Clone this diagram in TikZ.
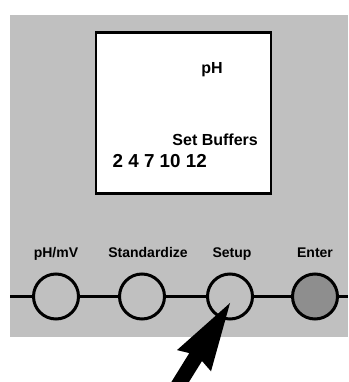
\documentclass[tikz,border=0pt]{standalone}
\usepackage{fontspec}
\setmainfont{Liberation Sans}
\usepackage{tikz}
\usetikzlibrary{positioning, calc}
\definecolor{PanelGray}{HTML}{C0C0C0}
\definecolor{KeyGray}{HTML}{8E8E8E}

\begin{document}
\begin{tikzpicture}[
    x=1pt, y=1pt,
    screen/.style={draw, line width=2.6pt, fill=white, minimum width=175pt, minimum height=161pt, inner sep=0pt},
    key/.style={draw, circle, line width=3pt, minimum size=45pt, inner sep=0pt, fill=PanelGray},
    lbl/.style={font=\bfseries\fontsize{14}{16}\selectfont, inner sep=0pt},
    scr/.style={font=\bfseries\fontsize{16}{18}\selectfont, inner sep=0pt},
    big/.style={font=\bfseries\fontsize{18.8}{22}\selectfont, inner sep=0pt}
]
    \useasboundingbox (0,0) rectangle (348,382);
    \clip (0,0) rectangle (348,382);
    % front panel
    \fill[PanelGray] (10,45) rectangle (348,367);
    \coordinate (left) at (10,85.5);
    \coordinate (right) at (348,85.5);
    % display
    \node[screen] (display) at (183.5,268.75) {};
    \node[scr, anchor=base] (mode) at (212,308) {pH};
    \node[scr, anchor=base east] (menu) at (258,236) {Set Buffers};
    \node[big, anchor=base west] (buffers) at (112.5,214) {2 4 7 10 12};
    % keys
    \node[key] (phmv) at (56,85.5) {};
    \node[key] (stand) at (142,85.5) {};
    \node[key] (setup) at (230,85.5) {};
    \node[key, fill=KeyGray] (enter) at (315,85.5) {};
    \node[lbl, above=14.5pt of phmv, anchor=base] {pH/mV};
    \node[lbl, above=14.5pt of stand, anchor=base, xshift=6pt] {Standardize};
    \node[lbl, above=14.5pt of setup, anchor=base, xshift=2pt] {Setup};
    \node[lbl, above=14.5pt of enter, anchor=base] {Enter};
    \draw[line width=3pt] (left) -- (phmv) -- (stand) -- (setup) -- (enter) -- (right);
    % pointer
    \coordinate (tip) at (230,79);
    \fill (tip) -- (177,31.9) -- (189.3,28.9) -- (167.7,-5.9) -- (180.4,-13.8)
        -- (202,21) -- (211,10.7) -- cycle;
\end{tikzpicture}
\end{document}
